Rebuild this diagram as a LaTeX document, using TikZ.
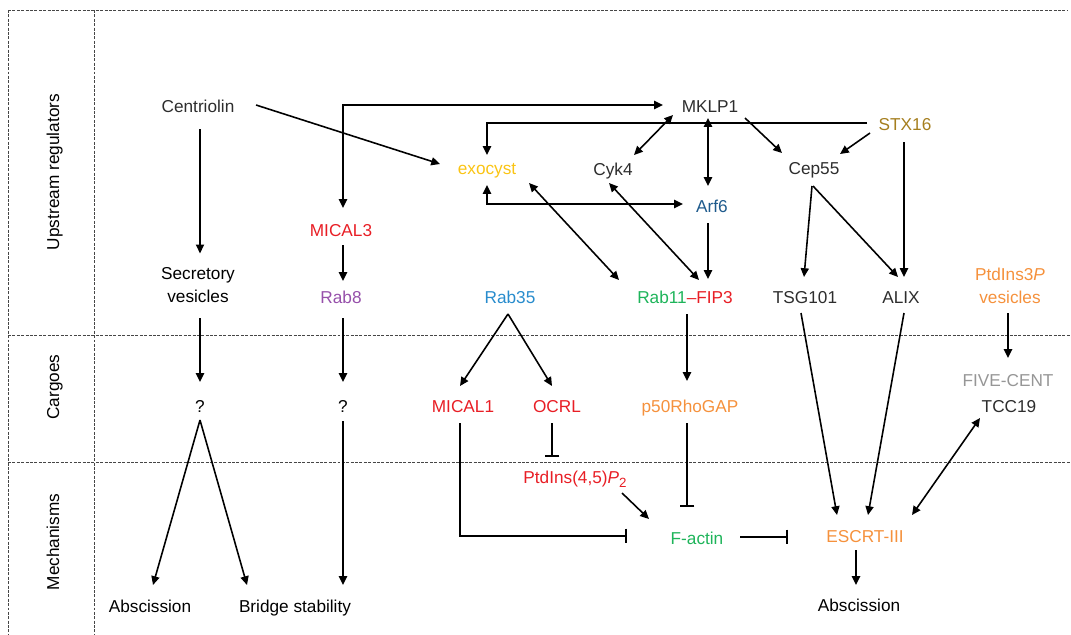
\documentclass[tikz,border=0pt]{standalone}
\usepackage{fontspec}
\setmainfont{Liberation Sans}
\usetikzlibrary{arrows.meta,calc}
\definecolor{cred}{RGB}{232,30,37}
\definecolor{cyel}{RGB}{250,196,20}
\definecolor{cbrown}{RGB}{165,126,30}
\definecolor{cpurple}{RGB}{150,80,170}
\definecolor{cblue}{RGB}{40,140,205}
\definecolor{cnavy}{RGB}{30,90,140}
\definecolor{cgreen}{RGB}{30,180,90}
\definecolor{corange}{RGB}{245,145,60}
\definecolor{cgray}{RGB}{150,150,150}
\definecolor{ctxt}{RGB}{45,45,45}
\definecolor{sepgray}{RGB}{70,70,70}
\tikzset{
  lbl/.style={inner sep=0pt, outer sep=0pt, text height=7.0pt, text depth=0pt,
    font=\fontsize{9.8}{13}\selectfont, text=ctxt},
  lbl2/.style={inner sep=0pt, outer sep=0pt, text depth=0pt, align=center,
    font=\fontsize{9.8}{13}\selectfont, text=ctxt},
  ln/.style={line width=0.9pt, draw=black},
  thk/.style={line width=1.2pt},
  arr/.style={ln, -{Triangle[length=5pt,width=4.6pt]}},
  darr/.style={ln, {Triangle[length=5pt,width=4.6pt]}-{Triangle[length=5pt,width=4.6pt]}},
  inh/.style={ln, -{Bar[width=8.5pt]}},
  sep/.style={dash pattern=on 1.7pt off 0.8pt, line width=0.5pt, draw=sepgray},
}
\begin{document}
\begin{tikzpicture}[x=0.2mm,y=-0.2mm]
\useasboundingbox (0,0) rectangle (1071,634);
% frame
\draw[sep] (8,10) -- (1068,10);
\draw[sep] (8,10) -- (8,634);
\draw[sep] (94,10) -- (94,634);
\draw[sep] (8,335) -- (1071,335);
\draw[sep] (8,462) -- (1071,462);
% row labels
\node[lbl, rotate=90, text=black] (rup) at (53,172) {Upstream regulators};
\node[lbl, rotate=90, text=black] (rcar) at (53,387) {Cargoes};
\node[lbl, rotate=90, text=black] (rmech) at (53,542) {Mechanisms};
% nodes
\node[lbl] (cent) at (198,106) {Centriolin};
\node[lbl] (mklp) at (710,106) {MKLP1};
\node[lbl, text=cbrown] (stx) at (905,124) {STX16};
\node[lbl, text=cyel] (exo) at (487,168) {exocyst};
\node[lbl] (cyk) at (613,169) {Cyk4};
\node[lbl] (cep) at (814,168) {Cep55};
\node[lbl, text=cnavy] (arf) at (712,206) {Arf6};
\node[lbl, text=cred] (mic3) at (341,230) {MICAL3};
\node[lbl, text=cpurple] (rab8) at (341,297) {Rab8};
\node[lbl2, text=black] (secv) at (198,285.4) {Secretory\\vesicles};
\node[lbl, text=cblue] (rab35) at (510,297) {Rab35};
\node[lbl] (rfip) at (685,297) {\textcolor{cgreen}{Rab11}\textcolor{cred}{–FIP3}};
\node[lbl] (tsg) at (805,297) {TSG101};
\node[lbl] (alix) at (901,297) {ALIX};
\node[lbl2, text=corange] (ptd3) at (1010,285.4) {PtdIns3\textit{P}\\vesicles};
\node[lbl, text=black] (q1) at (200,406) {?};
\node[lbl, text=black] (q2) at (343,406) {?};
\node[lbl, text=cred] (mic1) at (463,406) {MICAL1};
\node[lbl, text=cred] (ocrl) at (557,406) {OCRL};
\node[lbl, text=corange] (p50) at (690,406) {p50RhoGAP};
\node[lbl, text=cgray] (five) at (1008,380) {FIVE-CENT};
\node[lbl] (tcc) at (1009,406) {TCC19};
\node[lbl, text=cred] (pip2) at (575,477) {PtdIns(4,5)\textit{P}\raisebox{-2.4pt}{\fontsize{7.6}{8}\selectfont 2}};
\node[lbl, text=cgreen] (fact) at (697,538) {F-actin};
\node[lbl, text=corange] (escrt) at (865,536) {ESCRT-III};
\node[lbl, text=black] (abs1) at (150,606) {Abscission};
\node[lbl, text=black] (brid) at (295,606) {Bridge stability};
\node[lbl, text=black] (abs2) at (859,605) {Abscission};
% connectors
\draw[arr] ($(cent)+(58,-1)$) -- ($(exo)+(-47,-4)$);
\draw[arr] ($(cent)+(2,23)$) -- ($(secv)+(2,-32)$);
\draw[darr,thk] ($(mic3)+(2,-22)$) |- ($(mklp)+(-47,-1)$);
\draw[arr] ($(stx)+(-38,-1)$) -| ($(exo)+(0,-13)$);
\draw[darr] ($(mklp)+(-37,9)$) -- ($(cyk)+(21,-14)$);
\draw[darr,thk] ($(mklp)+(-2,12)$) -- ($(arf)+(-4,-20)$);
\draw[arr] ($(mklp)+(35,12)$) -- ($(cep)+(-32,-15)$);
\draw[arr] ($(stx)+(-35,9)$) -- ($(cep)+(26,-14)$);
\draw[arr] ($(stx)+(-1,18)$) -- ($(alix)+(3,-20)$);
\draw[arr] ($(cep)+(-2,18)$) -- ($(tsg)+(-1,-20)$);
\draw[arr] ($(cep)+(-1,18)$) -- ($(alix)+(-3,-20)$);
\draw[darr,thk] ($(exo)+(0,17)$) |- ($(arf)+(-29,-2)$);
\draw[darr] ($(exo)+(42,15)$) -- ($(rfip)+(-66,-17)$);
\draw[darr] ($(cyk)+(-4,14)$) -- ($(rfip)+(14,-17)$);
\draw[arr] ($(arf)+(-4,17)$) -- ($(rfip)+(23,-18)$);
\draw[arr,thk] ($(mic3)+(2,15)$) -- ($(rab8)+(2,-16)$);
\draw[arr] ($(secv)+(2,32.6)$) -- ($(q1)+(0,-24)$);
\draw[arr] ($(rab8)+(2,21)$) -- ($(q2)+(0,-24)$);
\draw[arr] ($(q1)+(0,14)$) -- ($(abs1)+(3,-21)$);
\draw[arr] ($(q1)+(0,14)$) -- ($(brid)+(-48,-21)$);
\draw[arr] ($(q2)+(0,15)$) -- ($(brid)+(48,-21)$);
\draw[arr] ($(rab35)+(-2,17)$) -- ($(mic1)+(-3,-20)$);
\draw[arr] ($(rab35)+(-2,17)$) -- ($(ocrl)+(-5,-20)$);
\draw[arr] ($(rfip)+(2,17)$) -- ($(p50)+(-3,-25)$);
\draw[inh,thk] ($(ocrl)+(-5,17)$) -- ($(pip2)+(-23,-20)$);
\draw[arr] ($(pip2)+(47,16)$) -- ($(fact)+(-48,-19)$);
\draw[inh,thk] ($(p50)+(-3,17)$) -- ($(fact)+(-10,-31)$);
\draw[inh,thk] ($(mic1)+(-3,17)$) |- ($(fact)+(-70,-2)$);
\draw[inh,thk] ($(fact)+(43,-1)$) -- ($(escrt)+(-77,1)$);
\draw[arr] ($(tsg)+(-4,16)$) -- ($(escrt)+(-28,-21)$);
\draw[arr] ($(alix)+(3,16)$) -- ($(escrt)+(3,-21)$);
\draw[arr,thk] ($(ptd3)+(-2,27.6)$) -- ($(five)+(0,-22)$);
\draw[darr] ($(tcc)+(-29,12)$) -- ($(escrt)+(47,-21)$);
\draw[arr,thk] ($(escrt)+(-9,14)$) -- ($(abs2)+(-3,-20)$);
\end{tikzpicture}
\end{document}
